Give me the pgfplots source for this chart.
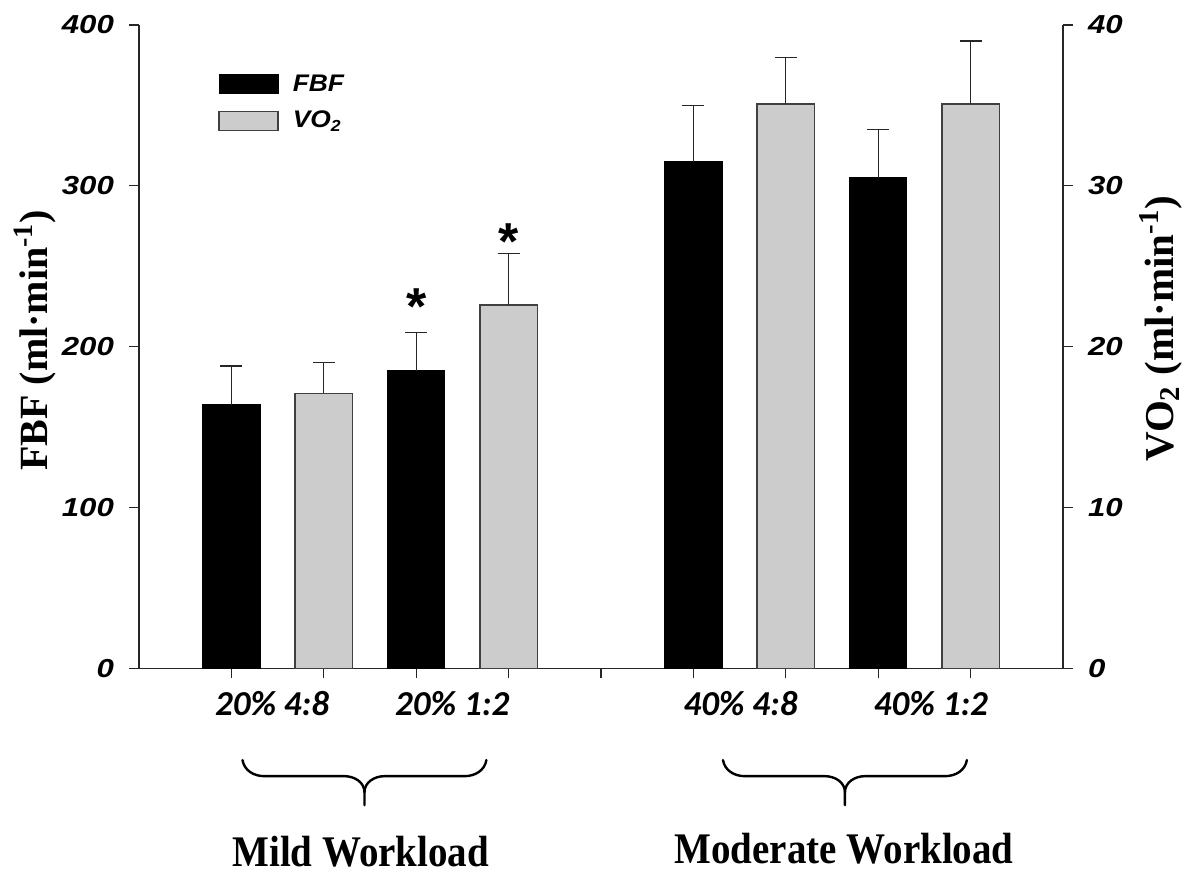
\documentclass[border=0pt]{standalone}
\usepackage{graphicx}
\usepackage{fontspec}
\setmainfont{Liberation Serif}
\newfontfamily\arial{Liberation Sans}
\newfontfamily\calibri{Carlito}
\usepackage{pgfplots}
\usepackage{pgfplotstable}
\pgfplotsset{compat=1.18}
\usetikzlibrary{calc}
\definecolor{barg}{gray}{0.8}

\pgfplotstableread{
x fbf err
1 164 24
3 185 24
6 315 35
8 305 30
}\fbftab
\pgfplotstableread{
x vo err
2 17.1 1.9
4 22.6 3.2
7 35.1 2.9
9 35.1 3.9
}\votab

\newcommand{\mybrace}[3]{%
  \draw[line width=1.2pt, line cap=round, line join=round]
    (axis cs:#1,-57) to[out=-80,in=180] ([xshift=11pt]axis cs:#1,-67)
    -- ([xshift=-10pt]axis cs:#2,-67) to[out=0,in=90] (axis cs:#2,-77) -- (axis cs:#2,-85);
  \draw[line width=1.2pt, line cap=round, line join=round]
    (axis cs:#3,-57) to[out=-100,in=0] ([xshift=-11pt]axis cs:#3,-67)
    -- ([xshift=10pt]axis cs:#2,-67) to[out=180,in=90] (axis cs:#2,-77);
}

\begin{document}
\begin{tikzpicture}
\pgfplotsset{
  common/.style={
    scale only axis, width=462pt, height=321.7pt,
    xmin=0, xmax=10, ymin=0,
    axis line style={line width=0.6pt, black!85},
    tick style={line width=0.6pt, black!85},
    major tick length=5pt,
    tick align=outside,
    /pgf/number format/assume math mode=true,
    yticklabel={\scalebox{1.2}[1]{\pgfmathprintnumber{\tick}}},
    yticklabel style={font=\arial\bfseries\itshape\fontsize{13}{16}\selectfont},
    ybar, bar width=0.62,
    clip=false,
    error bars/y dir=plus, error bars/y explicit,
    error bars/error bar style={line width=0.65pt, black!85},
    error bars/error mark options={line width=0.65pt, mark size=5.5pt, black!85, rotate=90},
  },
  boxleg/.style={legend image code/.code={\draw[##1] (0pt,-4.75pt) rectangle (29.5pt,4.75pt);}},
}
\begin{axis}[common, name=ax,
  ymax=400, ytick={0,100,...,400},
  yticklabel style={xshift=-4pt},
  axis y line*=left, axis x line*=bottom,
  xtick={1,...,9}, xticklabels={},
  extra x ticks={1.44,3.39,6.51,8.57},
  extra x tick labels={20\% 4:8, 20\% 1:2, 40\% 4:8, 40\% 1:2},
  extra x tick style={major tick length=0pt,
    tick label style={font=\calibri\bfseries\itshape\fontsize{17.5}{21}\selectfont, yshift=-8pt}},
  ylabel={\bfseries FBF (ml\textperiodcentered min\textsuperscript{-1})},
  ylabel style={font=\fontsize{20}{24}\selectfont, at={(axis description cs:-0.1126,0.51)}, anchor=center},
]
\addplot[fill=black, draw=black, bar shift=0pt] table[x=x, y=fbf, y error=err] {\fbftab};
\node[font=\arial\bfseries\fontsize{26}{30}\selectfont, anchor=north, inner sep=0pt] at (axis cs:3,236) {*};
\node[font=\arial\bfseries\fontsize{26}{30}\selectfont, anchor=north, inner sep=0pt] at (axis cs:4,277) {*};
\mybrace{1.12}{2.44}{3.76}
\mybrace{6.32}{7.64}{8.96}
\node[font=\bfseries\fontsize{19.5}{24}\selectfont, anchor=base, inner sep=0pt] at (axis cs:2.4,-123) {\scalebox{1}[1.12]{Mild Workload}};
\node[font=\bfseries\fontsize{19.5}{24}\selectfont, anchor=base, inner sep=0pt] at (axis cs:7.63,-121) {\scalebox{1}[1.12]{Moderate Workload}};
\end{axis}
\begin{axis}[common,
  ymax=40, ytick={0,10,...,40},
  yticklabel style={xshift=4pt},
  axis y line*=right, hide x axis,
  ylabel={\bfseries VO\textsubscript{2} (ml\textperiodcentered min\textsuperscript{-1})},
  ylabel style={font=\fontsize{20.5}{24}\selectfont, at={(axis description cs:1.106,0.528)}, anchor=center},
  legend style={at={(axis description cs:0.079,0.933)}, anchor=north west, draw=none, fill=none,
    font=\arial\bfseries\itshape\fontsize{12}{15}\selectfont, row sep=6.5pt, column sep=6pt,
    nodes={inner sep=1pt}},
  legend cell align=left,
]
\addlegendimage{boxleg, fill=black, draw=black}
\addlegendentry{\scalebox{1.1}[1]{FBF}}
\addplot[fill=barg, draw=black!75, line width=0.7pt, bar shift=0pt, boxleg] table[x=x, y=vo, y error=err] {\votab};
\addlegendentry{\scalebox{1.1}[1]{VO\textsubscript{2}}}
\end{axis}
\pgfresetboundingbox
\path ($(ax.south west)+(-69.5pt,-102.3pt)$) rectangle ($(ax.north east)+(60.5pt,12.5pt)$);
\end{tikzpicture}
\end{document}
